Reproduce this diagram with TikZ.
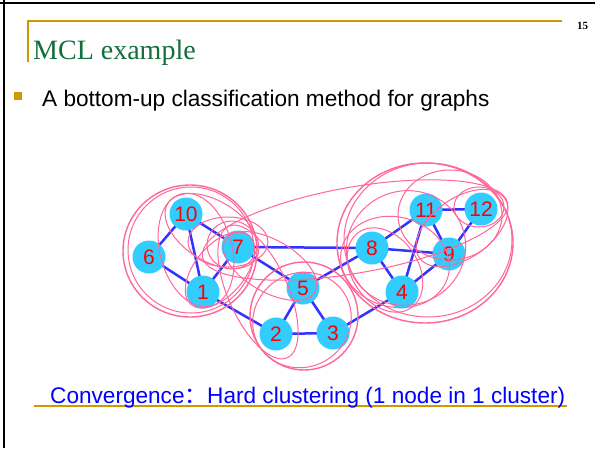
\documentclass[tikz,border=0pt]{standalone}
\usepackage{fontspec}
\usetikzlibrary{backgrounds}
\setmainfont{Liberation Serif}
\setsansfont{Liberation Sans}
\newfontfamily\arialf{Liberation Sans}
\newfontfamily\cjk{Noto Sans CJK SC}
\definecolor{titlegreen}{RGB}{20,110,60}
\definecolor{gold}{RGB}{204,153,0}
\definecolor{nodecyan}{RGB}{51,204,255}
\definecolor{edgeblue}{RGB}{51,51,255}
\definecolor{ringpink}{RGB}{255,102,153}
\definecolor{textblue}{RGB}{0,0,255}
\tikzset{
  vnode/.style={circle, fill=nodecyan, minimum size=33pt, inner sep=0pt,
    text=red, font=\arialf\fontsize{21}{24}\selectfont},
  gedge/.style={draw=edgeblue, line width=2.5pt},
  ring/.style={draw=ringpink, line width=1pt},
  ringthick/.style={draw=ringpink, line width=1.4pt},
}
\begin{document}
\begin{tikzpicture}[x=1pt,y=1pt]
\useasboundingbox (0,0) rectangle (595,-448);
% slide border
\draw[black, line width=2.2pt] (0,-3) -- (595,-3);
\draw[black, line width=2.2pt] (4,0) -- (4,-448);
% gold corner rule
\draw[gold, line width=1.3pt] (28,-62) -- (28,-21) -- (562,-21);
\node[anchor=base west, inner sep=0pt, font=\bfseries\fontsize{11}{13}\selectfont] (pg) at (577,-29) {15};
% title
\node[anchor=base west, inner sep=0pt, text=titlegreen, font=\fontsize{28}{32}\selectfont] (title) at (33,-59) {MCL example};
% bullet
\fill[gold] (14,-92) rectangle (22,-100);
\node[anchor=base west, inner sep=0pt, font=\arialf\fontsize{22.6}{27}\selectfont] (bullet) at (42,-106) {A bottom-up classification method for graphs};
% bottom text
\draw[gold, line width=2pt] (34,-406) -- (567,-406);
\node[anchor=base west, inner sep=0pt, text=textblue, font=\arialf\fontsize{22.6}{27}\selectfont] (conv) at (50,-403) {Convergence{\cjk：}Hard clustering (1 node in 1 cluster)};

% nodes
\node[vnode] (n1) at (203,-292) {1};
\node[vnode] (n2) at (276,-334) {2};
\node[vnode] (n3) at (333,-333) {3};
\node[vnode] (n4) at (402,-292) {4};
\node[vnode] (n5) at (303,-288) {5};
\node[vnode] (n6) at (149,-257) {6};
\node[vnode] (n7) at (238,-247) {7};
\node[vnode] (n8) at (372,-248) {8};
\node[vnode] (n9) at (449,-254) {9};
\node[vnode] (n10) at (186,-214) {10};
\node[vnode] (n11) at (426,-210) {11};
\node[vnode] (n12) at (481,-209) {12};

% edges behind nodes
\begin{scope}[on background layer]
\fill[white] (0,0) rectangle (595,-448);
\foreach \a/\b in {n10/n6, n10/n1, n10/n7, n6/n1, n1/n7, n7/n5, n7/n8, n1/n2,
  n5/n2, n5/n3, n2/n3, n5/n8, n3/n4, n8/n4, n8/n11, n8/n9, n11/n4, n11/n9,
  n11/n12, n9/n12, n4/n9}
  \draw[gedge] (\a.center) -- (\b.center);
\end{scope}

% cluster rings
% left cluster
\draw[ringthick] (190,-251) ellipse (67pt and 66pt);
\draw[ring] (191,-250) ellipse (63pt and 63pt);
\draw[ring, rotate around={-32:(212,-231)}] (212,-231) ellipse (52pt and 30pt);
\draw[ring, rotate around={-75:(196,-250)}] (196,-250) ellipse (58pt and 36pt);
\draw[ring, rotate around={50:(220,-270)}] (220,-270) ellipse (45pt and 25pt);
\draw[ring] (232,-245) ellipse (25pt and 24pt);
\draw[ring] (228,-242) ellipse (40pt and 25pt);
\draw[ring, rotate around={-66:(258,-292)}] (258,-292) ellipse (72pt and 30pt);
\draw[ring, rotate around={-30:(270,-266)}] (270,-266) ellipse (52pt and 26pt);
% long ring 7..12
\draw[ring, rotate around={10:(355,-230)}] (355,-230) ellipse (155pt and 43pt);
% centre cluster
\draw[ringthick] (304,-316) ellipse (54pt and 54pt);
\draw[ring, rotate around={30:(302,-320)}] (302,-320) ellipse (50pt and 47pt);
% right cluster
\draw[ringthick] (425,-243) ellipse (88pt and 80pt);
\draw[ring] (428,-240) ellipse (84pt and 77pt);
\draw[ring, rotate around={20:(406,-248)}] (406,-248) ellipse (60pt and 57pt);
\draw[ring, rotate around={-55:(385,-270)}] (385,-270) ellipse (46pt and 33pt);
\draw[ring] (450,-215) ellipse (52pt and 45pt);
\draw[ring] (479,-207) ellipse (25pt and 20pt);
\draw[ring, rotate around={35:(462,-228)}] (462,-228) ellipse (52pt and 30pt);
\draw[ring, rotate around={-15:(395,-262)}] (395,-262) ellipse (55pt and 45pt);
\end{tikzpicture}
\end{document}
